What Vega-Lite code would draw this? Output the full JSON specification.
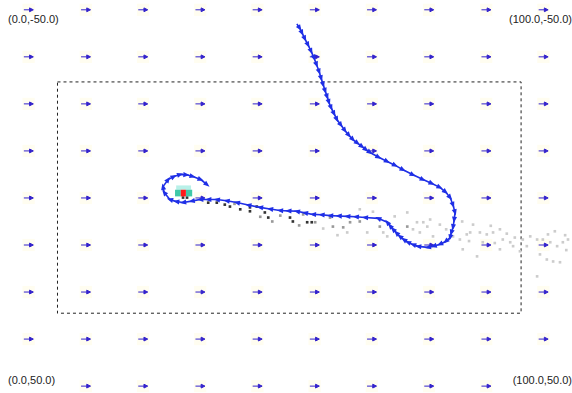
{
  "$schema": "https://vega.github.io/schema/vega-lite/v6.json",
  "width": 572,
  "height": 393,
  "autosize": {"type": "fit", "contains": "padding"},
  "padding": 0,
  "background": "white",
  "config": {"view": {"stroke": null}},
  "resolve": {"scale": {"color": "independent"}},
  "datasets": {
    "wind": [
      {"x":5,"y":-47.5},{"x":15,"y":-47.5},{"x":25,"y":-47.5},{"x":35,"y":-47.5},{"x":45,"y":-47.5},{"x":55,"y":-47.5},{"x":65,"y":-47.5},{"x":75,"y":-47.5},{"x":85,"y":-47.5},{"x":95,"y":-47.5},
      {"x":5,"y":-35.5},{"x":15,"y":-35.5},{"x":25,"y":-35.5},{"x":35,"y":-35.5},{"x":45,"y":-35.5},{"x":55,"y":-35.5},{"x":65,"y":-35.5},{"x":75,"y":-35.5},{"x":85,"y":-35.5},{"x":95,"y":-35.5},
      {"x":5,"y":-23.5},{"x":15,"y":-23.5},{"x":25,"y":-23.5},{"x":35,"y":-23.5},{"x":45,"y":-23.5},{"x":55,"y":-23.5},{"x":65,"y":-23.5},{"x":75,"y":-23.5},{"x":85,"y":-23.5},{"x":95,"y":-23.5},
      {"x":5,"y":-11.5},{"x":15,"y":-11.5},{"x":25,"y":-11.5},{"x":35,"y":-11.5},{"x":45,"y":-11.5},{"x":55,"y":-11.5},{"x":65,"y":-11.5},{"x":75,"y":-11.5},{"x":85,"y":-11.5},{"x":95,"y":-11.5},
      {"x":5,"y":0.5},{"x":15,"y":0.5},{"x":25,"y":0.5},{"x":35,"y":0.5},{"x":45,"y":0.5},{"x":55,"y":0.5},{"x":65,"y":0.5},{"x":75,"y":0.5},{"x":85,"y":0.5},{"x":95,"y":0.5},
      {"x":5,"y":12.5},{"x":15,"y":12.5},{"x":25,"y":12.5},{"x":35,"y":12.5},{"x":45,"y":12.5},{"x":55,"y":12.5},{"x":65,"y":12.5},{"x":75,"y":12.5},{"x":85,"y":12.5},{"x":95,"y":12.5},
      {"x":5,"y":24.5},{"x":15,"y":24.5},{"x":25,"y":24.5},{"x":35,"y":24.5},{"x":45,"y":24.5},{"x":55,"y":24.5},{"x":65,"y":24.5},{"x":75,"y":24.5},{"x":85,"y":24.5},{"x":95,"y":24.5},
      {"x":5,"y":36.5},{"x":15,"y":36.5},{"x":25,"y":36.5},{"x":35,"y":36.5},{"x":45,"y":36.5},{"x":55,"y":36.5},{"x":65,"y":36.5},{"x":75,"y":36.5},{"x":85,"y":36.5},{"x":95,"y":36.5},
      {"x":15,"y":48.5},{"x":25,"y":48.5},{"x":35,"y":48.5},{"x":45,"y":48.5},{"x":55,"y":48.5},{"x":65,"y":48.5},{"x":75,"y":48.5},{"x":85,"y":48.5}
    ],
    "track": [
      {"i":0,"x":51.9,"y":-43.9},{"i":1,"x":52.4,"y":-42.8},{"i":2,"x":52.8,"y":-41.6},{"i":3,"x":53.3,"y":-40.1},{"i":4,"x":53.85,"y":-38.55},{"i":5,"x":54.4,"y":-36.9},{"i":6,"x":54.9,"y":-35.2},{"i":7,"x":55.35,"y":-33.5},{"i":8,"x":55.8,"y":-31.7},{"i":9,"x":56.15,"y":-30.0},{"i":10,"x":56.5,"y":-28.4},{"i":11,"x":56.85,"y":-26.8},{"i":12,"x":57.2,"y":-25.3},{"i":13,"x":57.5,"y":-23.9},{"i":14,"x":57.9,"y":-22.5},{"i":15,"x":58.4,"y":-21.0},{"i":16,"x":58.9,"y":-19.5},{"i":17,"x":59.6,"y":-18.1},{"i":18,"x":60.3,"y":-16.7},{"i":19,"x":61.0,"y":-15.5},{"i":20,"x":61.7,"y":-14.4},{"i":21,"x":62.5,"y":-13.5},{"i":22,"x":63.3,"y":-12.6},{"i":23,"x":64.0,"y":-11.8},{"i":24,"x":64.7,"y":-11.1},{"i":25,"x":66.2,"y":-9.9},{"i":26,"x":67.7,"y":-8.8},{"i":27,"x":69.1,"y":-7.8},{"i":28,"x":70.45,"y":-6.7},{"i":29,"x":72.2,"y":-5.4},{"i":30,"x":73.95,"y":-4.2},{"i":31,"x":75.5,"y":-3.2},{"i":32,"x":76.9,"y":-2.2},{"i":33,"x":77.9,"y":-1.0},{"i":34,"x":78.7,"y":0.4},{"i":35,"x":79.2,"y":2.3},{"i":36,"x":79.55,"y":4.2},{"i":37,"x":79.4,"y":6.1},{"i":38,"x":79.2,"y":8.0},{"i":39,"x":78.9,"y":9.4},{"i":40,"x":78.7,"y":10.6},{"i":41,"x":77.9,"y":11.6},{"i":42,"x":76.9,"y":12.3},{"i":43,"x":75.8,"y":12.8},{"i":44,"x":74.8,"y":13.1},{"i":45,"x":73.1,"y":12.85},{"i":46,"x":72.2,"y":12.4},{"i":47,"x":71.3,"y":11.8},{"i":48,"x":70.6,"y":11.1},{"i":49,"x":69.9,"y":10.3},{"i":50,"x":69.3,"y":9.4},{"i":51,"x":68.7,"y":8.5},{"i":52,"x":68.2,"y":7.6},{"i":53,"x":67.7,"y":6.7},{"i":54,"x":66.1,"y":5.7},{"i":55,"x":63.8,"y":5.5},{"i":56,"x":62.2,"y":5.3},{"i":57,"x":60.7,"y":5.2},{"i":58,"x":59.2,"y":5.1},{"i":59,"x":57.7,"y":5.0},{"i":60,"x":56.2,"y":4.8},{"i":61,"x":54.7,"y":4.7},{"i":62,"x":53.3,"y":4.3},{"i":63,"x":51.9,"y":3.9},{"i":64,"x":50.4,"y":3.8},{"i":65,"x":48.95,"y":3.7},{"i":66,"x":47.2,"y":3.3},{"i":67,"x":45.45,"y":2.9},{"i":68,"x":43.4,"y":2.3},{"i":69,"x":41.4,"y":1.65},{"i":70,"x":39.6,"y":1.2},{"i":71,"x":37.9,"y":0.9},{"i":72,"x":36.4,"y":0.9},{"i":73,"x":35.0,"y":0.9},{"i":74,"x":33.5,"y":1.3},{"i":75,"x":32.0,"y":1.65},{"i":76,"x":30.8,"y":1.4},{"i":77,"x":29.7,"y":0.9},{"i":78,"x":28.7,"y":-0.9},{"i":79,"x":28.5,"y":-2.4},{"i":80,"x":29.4,"y":-4.2},{"i":81,"x":30.4,"y":-5.0},{"i":82,"x":31.5,"y":-5.5},{"i":83,"x":32.6,"y":-5.4},{"i":84,"x":33.7,"y":-5.0},{"i":85,"x":35.1,"y":-4.2},{"i":86,"x":36.2,"y":-2.9}
    ],
    "particles": [
      {"x":32.0,"y":0.4,"c":3},{"x":32.7,"y":0.4,"c":3},{"x":36.4,"y":1.7,"c":3},{"x":37.9,"y":1.7,"c":3},{"x":39.3,"y":2.2,"c":3},{"x":40.2,"y":2.7,"c":3},{"x":42.0,"y":3.4,"c":3},{"x":43.7,"y":2.9,"c":3},{"x":44.9,"y":2.7,"c":3},{"x":43.7,"y":3.9,"c":3},{"x":46.3,"y":4.2,"c":3},{"x":46.9,"y":5.5,"c":3},{"x":47.6,"y":6.5,"c":2},{"x":50.7,"y":5.5,"c":3},{"x":51.2,"y":6.5,"c":3},{"x":53.7,"y":6.7,"c":3},{"x":54.5,"y":6.7,"c":3},{"x":55.1,"y":6.7,"c":2},{"x":53.0,"y":4.7,"c":2},{"x":41.0,"y":2.0,"c":2},{"x":45.5,"y":5.3,"c":2},{"x":49.0,"y":5.0,"c":2},{"x":52.3,"y":7.5,"c":2},
      {"x":57.7,"y":5.5,"c":2},{"x":58.2,"y":7.8,"c":2},{"x":60.0,"y":8.0,"c":2},{"x":61.2,"y":6.7,"c":2},{"x":60.7,"y":9.3,"c":1},{"x":62.9,"y":6.5,"c":2},{"x":66.4,"y":7.8,"c":2},{"x":67.0,"y":9.3,"c":1},{"x":67.7,"y":10.3,"c":1},{"x":71.2,"y":4.2,"c":1},{"x":71.2,"y":7.8,"c":2},{"x":72.2,"y":8.5,"c":1},{"x":72.9,"y":6.7,"c":1},{"x":73.4,"y":9.3,"c":1},{"x":74.7,"y":7.8,"c":1},{"x":75.2,"y":6.0,"c":1},{"x":75.7,"y":10.3,"c":1},{"x":62.9,"y":3.4,"c":1},{"x":64.2,"y":9.3,"c":1},{"x":56.5,"y":8.3,"c":1},{"x":59.0,"y":10.0,"c":1},{"x":65.2,"y":4.0,"c":1},{"x":69.0,"y":5.2,"c":1},
      {"x":74.0,"y":6.7,"c":1},{"x":76.9,"y":7.3,"c":1},{"x":80.8,"y":6.5,"c":1},{"x":82.2,"y":9.3,"c":1},{"x":82.7,"y":7.3,"c":1},{"x":83.9,"y":9.3,"c":1},{"x":85.1,"y":9.8,"c":1},{"x":86.2,"y":9.3,"c":1},{"x":87.4,"y":8.5,"c":1},{"x":87.9,"y":11.1,"c":1},{"x":89.2,"y":11.8,"c":1},{"x":84.4,"y":11.8,"c":1},{"x":83.4,"y":15.4,"c":1},{"x":80.9,"y":13.6,"c":1},{"x":91.4,"y":11.1,"c":1},{"x":92.7,"y":10.3,"c":1},{"x":93.9,"y":11.1,"c":1},{"x":94.9,"y":11.1,"c":1},{"x":96.2,"y":11.8,"c":1},{"x":97.4,"y":12.8,"c":1},{"x":98.4,"y":11.8,"c":1},{"x":99.3,"y":11.1,"c":1},{"x":94.4,"y":14.9,"c":1},{"x":95.6,"y":16.2,"c":1},{"x":96.7,"y":16.7,"c":1},{"x":97.9,"y":16.9,"c":1},{"x":93.9,"y":20.5,"c":1},{"x":90.9,"y":14.1,"c":1},{"x":92.1,"y":12.8,"c":1},{"x":89.7,"y":12.8,"c":1},{"x":87.4,"y":13.6,"c":1},{"x":80.4,"y":11.1,"c":1},{"x":79.2,"y":10.3,"c":1},{"x":81.6,"y":9.8,"c":1},{"x":97.0,"y":9.0,"c":1},{"x":98.8,"y":10.0,"c":1},{"x":95.8,"y":9.8,"c":1},{"x":85.8,"y":7.6,"c":1},{"x":88.6,"y":9.6,"c":1},{"x":90.0,"y":10.6,"c":1},{"x":86.5,"y":12.0,"c":1},{"x":82.0,"y":11.5,"c":1},{"x":78.0,"y":8.5,"c":1},{"x":99.0,"y":13.8,"c":1}
    ],
    "blob": [
      {"x0":30.8,"x1":33.4,"y0":-2.7,"y1":-1.6,"v":1},
      {"x0":30.6,"x1":31.6,"y0":-1.6,"y1":0.1,"v":2},
      {"x0":32.5,"x1":33.6,"y0":-1.6,"y1":0.1,"v":2},
      {"x0":31.6,"x1":32.5,"y0":-1.6,"y1":0.1,"v":3}
    ],
    "box": [{"x0":10.05,"x1":91.1,"y0":-29.1,"y1":29.9}],
    "labels": [
      {"x":1.4,"y":-44.9,"t":"(0.0,-50.0)","side":"left"},
      {"x":100,"y":-44.9,"t":"(100.0,-50.0)","side":"right"},
      {"x":1.4,"y":47.2,"t":"(0.0,50.0)","side":"left"},
      {"x":100,"y":47.2,"t":"(100.0,50.0)","side":"right"}
    ]
  },
  "layer": [
    {
      "data": {"name": "box"},
      "mark": {"type": "rect", "fill": null, "filled": false, "stroke": "#222222", "strokeWidth": 1, "strokeDash": [3, 3]},
      "encoding": {
        "x": {"field": "x0", "type": "quantitative", "scale": {"domain": [0, 100], "nice": false, "zero": false}, "axis": null},
        "x2": {"field": "x1"},
        "y": {"field": "y0", "type": "quantitative", "scale": {"domain": [-50, 50], "nice": false, "zero": false, "reverse": true}, "axis": null},
        "y2": {"field": "y1"}
      }
    },
    {
      "data": {"name": "wind"},
      "mark": {"type": "point", "shape": "square", "filled": true, "color": "#fffdf0", "size": 150, "opacity": 1},
      "encoding": {
        "x": {"field": "x", "type": "quantitative", "axis": null},
        "y": {"field": "y", "type": "quantitative", "axis": null}
      }
    },
    {
      "data": {"name": "wind"},
      "mark": {"type": "point", "shape": "M-1,0L0.2,0M0.2,-0.4L1,0L0.2,0.4Z", "filled": true, "fill": "#3322cc", "stroke": "#3322cc", "strokeWidth": 1, "size": 90, "opacity": 1},
      "encoding": {
        "x": {"field": "x", "type": "quantitative", "axis": null},
        "y": {"field": "y", "type": "quantitative", "axis": null}
      }
    },
    {
      "data": {"name": "particles"},
      "mark": {"type": "point", "shape": "square", "filled": true, "size": 7, "opacity": 1},
      "encoding": {
        "x": {"field": "x", "type": "quantitative", "axis": null},
        "y": {"field": "y", "type": "quantitative", "axis": null},
        "color": {"field": "c", "type": "ordinal", "legend": null, "scale": {"domain": [1, 2, 3], "range": ["#cccccc", "#999999", "#333333"]}}
      }
    },
    {
      "data": {"name": "blob"},
      "mark": {"type": "rect"},
      "encoding": {
        "x": {"field": "x0", "type": "quantitative", "axis": null},
        "x2": {"field": "x1"},
        "y": {"field": "y0", "type": "quantitative", "axis": null},
        "y2": {"field": "y1"},
        "color": {"field": "v", "type": "nominal", "legend": null, "scale": {"domain": [1, 2, 3], "range": ["#b8f0e8", "#40c8a8", "#ff1a1a"]}}
      }
    },
    {
      "data": {"name": "track"},
      "mark": {"type": "line", "color": "#1f2fe6", "strokeWidth": 1.6},
      "encoding": {
        "x": {"field": "x", "type": "quantitative", "axis": null},
        "y": {"field": "y", "type": "quantitative", "axis": null},
        "order": {"field": "i", "type": "quantitative"}
      }
    },
    {
      "data": {"name": "track"},
      "transform": [
        {"window": [{"op": "lead", "field": "x", "as": "nx"}, {"op": "lead", "field": "y", "as": "ny"}], "sort": [{"field": "i"}]},
        {"filter": "datum.nx != null"},
        {"calculate": "atan2((datum.ny - datum.y) * 3.93, (datum.nx - datum.x) * 5.72) * 180 / PI", "as": "ang"}
      ],
      "mark": {"type": "point", "shape": "M-1,-0.8L1,0L-1,0.8Z", "filled": true, "color": "#1f2fe6", "size": 40, "opacity": 1},
      "encoding": {
        "x": {"field": "nx", "type": "quantitative", "axis": null},
        "y": {"field": "ny", "type": "quantitative", "axis": null},
        "angle": {"field": "ang", "type": "quantitative", "scale": null}
      }
    },
    {
      "data": {"name": "labels"},
      "transform": [{"filter": "datum.side == 'left'"}],
      "mark": {"type": "text", "align": "left", "baseline": "middle", "font": "Liberation Sans", "fontSize": 11, "color": "#222222"},
      "encoding": {
        "x": {"field": "x", "type": "quantitative", "axis": null},
        "y": {"field": "y", "type": "quantitative", "axis": null},
        "text": {"field": "t"}
      }
    },
    {
      "data": {"name": "labels"},
      "transform": [{"filter": "datum.side == 'right'"}],
      "mark": {"type": "text", "align": "right", "baseline": "middle", "font": "Liberation Sans", "fontSize": 11, "color": "#222222"},
      "encoding": {
        "x": {"field": "x", "type": "quantitative", "axis": null},
        "y": {"field": "y", "type": "quantitative", "axis": null},
        "text": {"field": "t"}
      }
    }
  ]
}
